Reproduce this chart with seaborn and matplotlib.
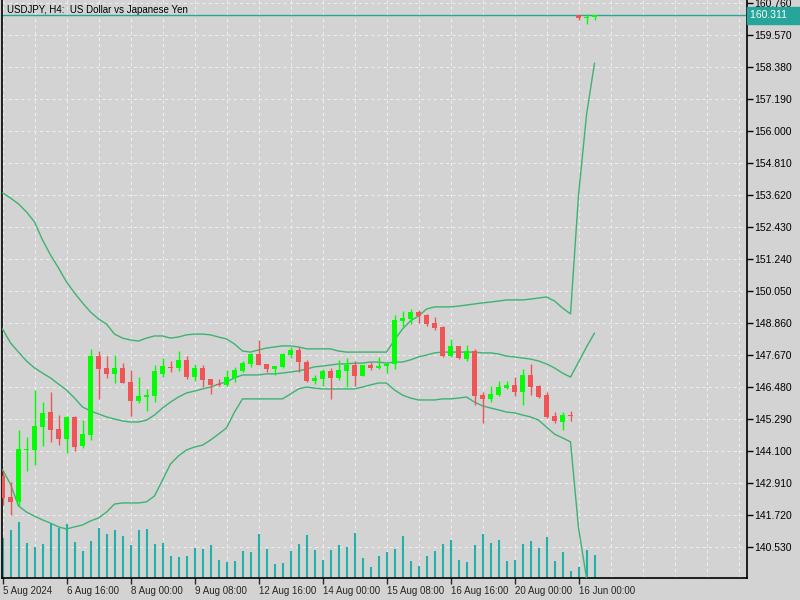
import seaborn as sns
import matplotlib.pyplot as plt
import numpy as np

# USDJPY H4 candles
opens = [143.19, 142.41, 142.23, 144.16, 144.16, 145.00, 145.56, 144.93, 144.56, 145.38,
         144.30, 144.71, 147.64, 147.20, 146.98, 147.20, 146.68, 145.97, 146.13, 146.16,
         146.98, 147.24, 147.20, 147.50, 146.86, 147.20, 146.79, 146.60, 146.57, 146.83,
         147.09, 147.35, 147.72, 147.35, 147.16, 147.24, 147.68, 147.87, 147.42, 146.72,
         146.79, 147.09, 146.83, 147.09, 147.31, 146.90, 147.31, 147.20, 147.27, 147.35,
         148.95, 149.02, 149.28, 149.17, 148.87, 148.72, 147.64, 148.02, 147.53, 147.83,
         146.19, 146.05, 146.19, 146.45, 146.57, 146.31, 146.94, 146.53, 146.19, 145.41,
         145.19, 145.45, 160.33, 160.21, 160.25]
highs = [143.41, 142.96, 144.89, 144.63, 146.39, 145.93, 146.31, 145.45, 145.41, 145.41,
         145.26, 147.90, 147.83, 147.64, 147.68, 147.38, 147.12, 146.86, 146.42, 147.31,
         147.57, 147.46, 147.83, 147.64, 147.35, 147.31, 146.79, 146.79, 147.12, 147.24,
         147.46, 147.76, 148.24, 147.35, 147.27, 147.76, 147.98, 147.98, 147.50, 146.94,
         147.16, 147.20, 147.50, 147.57, 147.46, 147.31, 147.42, 147.61, 147.42, 149.17,
         149.32, 149.39, 149.36, 149.21, 149.10, 148.76, 148.28, 148.02, 148.05, 147.91,
         146.31, 146.53, 146.72, 146.72, 146.86, 147.16, 147.35, 146.57, 146.31, 145.56,
         145.56, 145.60, 160.36, 160.36, 160.33]
lows = [142.10, 141.73, 142.07, 143.38, 143.59, 144.30, 144.45, 144.33, 144.04, 144.11,
        144.22, 144.52, 146.05, 146.83, 146.64, 146.64, 145.41, 145.90, 145.60, 145.94,
        146.87, 147.05, 147.09, 146.79, 146.72, 146.49, 146.23, 146.53, 146.53, 146.68,
        147.05, 147.24, 147.31, 147.05, 146.94, 147.20, 147.57, 147.05, 146.68, 146.60,
        146.53, 146.05, 146.75, 146.49, 146.53, 146.90, 147.12, 147.16, 147.01, 147.16,
        148.69, 148.83, 148.87, 148.76, 148.61, 147.61, 147.61, 147.53, 147.46, 145.82,
        145.15, 145.93, 146.16, 146.42, 146.16, 145.82, 146.19, 146.08, 145.34, 145.15,
        144.89, 145.23, 160.14, 159.99, 160.14]
closes = [142.38, 142.23, 144.19, 144.19, 145.04, 145.53, 144.89, 144.56, 145.38, 144.26,
          144.74, 147.64, 147.16, 146.98, 147.20, 146.64, 145.97, 146.16, 146.19, 147.09,
          147.27, 147.20, 147.50, 146.86, 147.20, 146.75, 146.57, 146.57, 146.86, 147.12,
          147.38, 147.72, 147.31, 147.16, 147.27, 147.72, 147.87, 147.42, 146.72, 146.83,
          147.09, 146.83, 147.12, 147.31, 146.90, 147.31, 147.20, 147.27, 147.35, 148.98,
          149.06, 149.28, 149.13, 148.83, 148.69, 147.64, 148.02, 147.57, 147.83, 146.16,
          146.05, 146.23, 146.49, 146.57, 146.31, 146.94, 146.49, 146.12, 145.38, 145.23,
          145.45, 145.41, 160.21, 160.25, 160.311]
volumes = [40, 48, 56, 35, 31, 34, 54, 50, 54, 36,
           27, 37, 50, 44, 48, 42, 33, 48, 49, 34,
           35, 22, 21, 22, 30, 29, 33, 18, 16, 17,
           27, 26, 44, 29, 14, 15, 27, 34, 43, 28,
           18, 28, 33, 31, 45, 20, 11, 22, 26, 29,
           42, 17, 12, 22, 27, 34, 38, 18, 16, 33,
           44, 35, 38, 17, 18, 34, 37, 30, 41, 17,
           26, 7, 11, 28, 23]
vol_scale_max = 578

# Bollinger bands
bb_upper = [153.71, 153.52, 153.30, 153.00, 152.63, 151.96, 151.40, 150.92, 150.40, 149.99,
            149.62, 149.28, 149.02, 148.83, 148.46, 148.31, 148.24, 148.20, 148.31, 148.39,
            148.39, 148.31, 148.35, 148.43, 148.46, 148.46, 148.43, 148.35, 148.28, 148.09,
            147.83, 147.79, 147.87, 147.94, 147.98, 148.02, 148.02, 147.98, 147.91, 147.91,
            147.91, 147.91, 147.83, 147.79, 147.79, 147.79, 147.79, 147.79, 147.79, 148.24,
            148.65, 148.95, 149.13, 149.39, 149.47, 149.47, 149.47, 149.50, 149.54, 149.58,
            149.62, 149.65, 149.69, 149.73, 149.73, 149.73, 149.76, 149.80, 149.84, 149.69,
            149.43, 149.21, 153.63, 156.61, 158.54]
bb_middle = [148.65, 148.13, 147.79, 147.46, 147.20, 147.01, 146.83, 146.60, 146.38, 146.08,
             145.75, 145.60, 145.49, 145.38, 145.30, 145.23, 145.19, 145.19, 145.26, 145.45,
             145.71, 145.93, 146.12, 146.27, 146.34, 146.42, 146.49, 146.60, 146.68, 146.83,
             146.94, 146.94, 146.94, 146.98, 146.98, 147.01, 147.05, 147.09, 147.16, 147.24,
             147.27, 147.31, 147.35, 147.35, 147.38, 147.38, 147.42, 147.42, 147.38, 147.42,
             147.42, 147.50, 147.61, 147.68, 147.76, 147.79, 147.79, 147.79, 147.79, 147.79,
             147.76, 147.76, 147.72, 147.64, 147.61, 147.57, 147.53, 147.46, 147.35, 147.20,
             147.01, 146.86, 147.42, 147.98, 148.50]
bb_lower = [143.41, 142.88, 142.07, 141.84, 141.69, 141.55, 141.43, 141.29, 141.21, 141.29,
            141.36, 141.51, 141.62, 141.84, 142.14, 142.18, 142.18, 142.18, 142.22, 142.44,
            143.03, 143.63, 143.93, 144.15, 144.26, 144.33, 144.52, 144.74, 144.97, 145.56,
            146.05, 146.05, 146.05, 146.05, 146.05, 146.05, 146.23, 146.42, 146.49, 146.45,
            146.42, 146.42, 146.42, 146.42, 146.42, 146.49, 146.57, 146.64, 146.64, 146.38,
            146.19, 146.08, 146.01, 146.01, 146.01, 146.05, 146.05, 146.08, 146.12, 145.93,
            145.79, 145.71, 145.64, 145.56, 145.53, 145.45, 145.38, 145.26, 145.00, 144.74,
            144.60, 144.45, 141.25, 139.39, 138.46]

price_ticks = [160.760, 159.570, 158.380, 157.190, 156.000, 154.810, 153.620, 152.430, 151.240,
               150.050, 148.860, 147.670, 146.480, 145.290, 144.100, 142.910, 141.720, 140.530]
time_labels = ["5 Aug 2024", "6 Aug 16:00", "8 Aug 00:00", "9 Aug 08:00", "12 Aug 16:00",
               "14 Aug 00:00", "15 Aug 08:00", "16 Aug 16:00", "20 Aug 00:00", "16 Jun 00:00"]
last_price = 160.311

BG = "#d3d3d3"
UP = "#00ff00"
DOWN = "#f05454"
BAND = "#3cb371"
VOL = "#20b2aa"
TEAL = "#26a69a"
GRID = "#eeeeee"

sns.set_style("ticks", rc={"axes.facecolor": BG, "figure.facecolor": BG,
                           "axes.edgecolor": "black"})
plt.rcParams["font.family"] = ["Liberation Sans", "DejaVu Sans"]

fig = plt.figure(figsize=(8, 6), dpi=100)
ax = fig.add_axes([2 / 800, 22 / 600, 745 / 800, 578 / 600])

idx = np.arange(len(closes))
o = np.array(opens)
c = np.array(closes)
colors = [UP if cc >= oo else DOWN for oo, cc in zip(o, c)]

ax.grid(True, which="both", axis="x", color=GRID, lw=0.75, ls=(0, (3, 3)), zorder=0)
ax.grid(True, which="major", axis="y", color=GRID, lw=0.75, ls=(0, (3, 3)), zorder=0)
ax.set_axisbelow(True)

# tick volume, bottom strip (x in bars, y as fraction of the pane)
vol_frac = np.array(volumes) / vol_scale_max
ax.vlines(idx, 0, vol_frac, color=VOL, lw=1.5, transform=ax.get_xaxis_transform(), zorder=1)

# bollinger bands
for band in (bb_upper, bb_middle, bb_lower):
    sns.lineplot(x=idx, y=band, ax=ax, color=BAND, lw=1, zorder=3)

# candles
ax.vlines(idx, lows, highs, color=colors, lw=1, zorder=4)
body_lo = np.minimum(o, c)
body_h = np.maximum(np.abs(c - o), 0.04)
ax.bar(idx, body_h, bottom=body_lo, width=0.62, color=colors, lw=0, zorder=5)

ax.axhline(last_price, color=TEAL, lw=1, zorder=2)

ax.set_xlim(-0.0625, 93.06)
ax.set_ylim(139.389, 160.883)

ax.set_yticks(price_ticks)
ax.set_yticklabels([f"{p:.3f}" for p in price_ticks], fontsize=7.5)
ax.yaxis.tick_right()
ax.tick_params(axis="y", length=4, width=1, pad=1, colors="black")

ax.set_xticks(np.arange(0, 80, 8))
ax.set_xticklabels(time_labels, fontsize=7, ha="left")
ax.set_xticks(np.arange(0, 93, 4), minor=True)
ax.tick_params(axis="x", which="major", length=4, width=1, pad=1.5)
ax.tick_params(axis="x", which="minor", length=0)

ax.spines["top"].set_visible(False)
for s in ("left", "right", "bottom"):
    ax.spines[s].set_linewidth(1.2)
ax.set_xlabel("")
ax.set_ylabel("")

# current price tag
ax.text(1.004, last_price, f"{last_price:.3f}   ", transform=ax.get_yaxis_transform(),
        fontsize=7.5, color="white", va="center", ha="left",
        bbox=dict(boxstyle="square,pad=0.3", fc=TEAL, ec=TEAL))

fig.text(7 / 800, 1 - 10 / 600, "USDJPY, H4:  US Dollar vs Japanese Yen",
         fontsize=7, va="center", ha="left", color="black")

fig.savefig("out.png", dpi=100, facecolor=BG)
